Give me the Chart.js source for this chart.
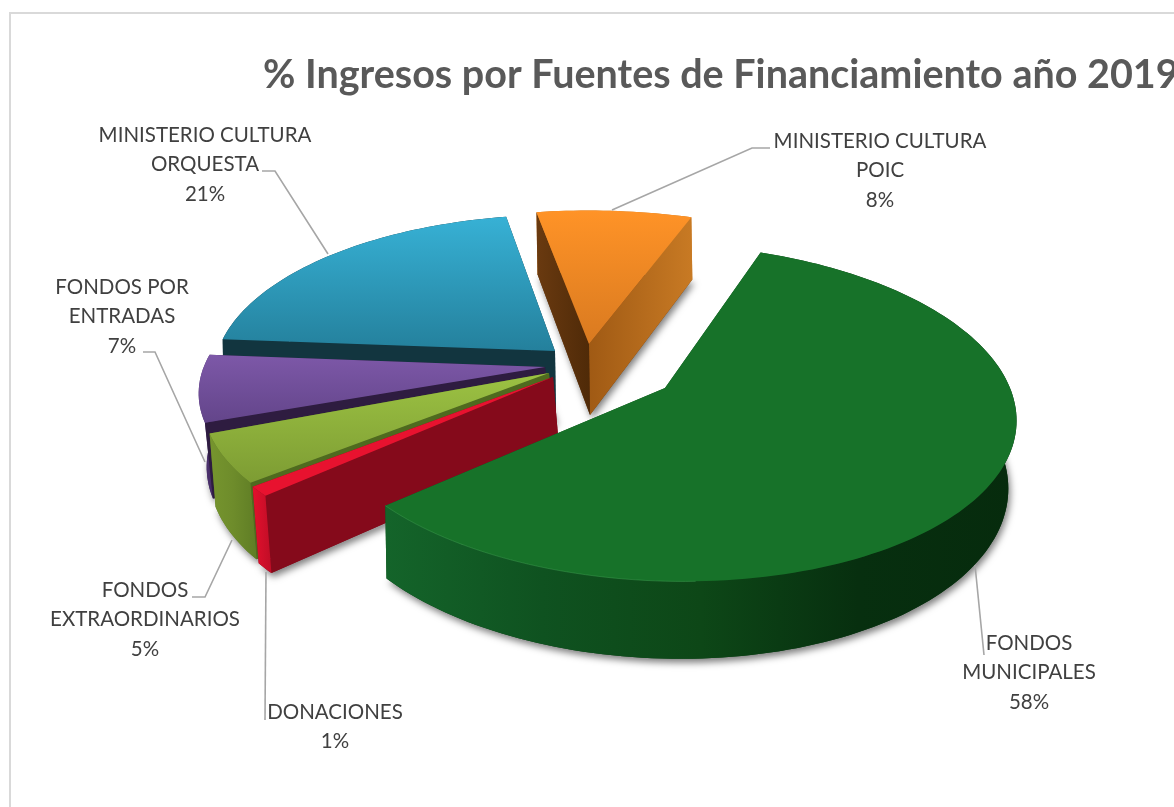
<!DOCTYPE html>
<html lang="es">
<head>
<meta charset="utf-8">
<title>% Ingresos por Fuentes de Financiamiento año 2019</title>
<script src="https://cdn.jsdelivr.net/npm/chart.js@4"></script>
<style>
  html,body{margin:0;padding:0;background:#fff;overflow:hidden}
  #marco{position:absolute;left:9px;top:12px;right:-5px;bottom:-5px;border:2px solid #d9d9d9}
  canvas{position:absolute;left:0;top:0;display:block}
</style>
</head>
<body>
<div id="marco"></div>
<canvas id="pieChart" width="1174" height="807"></canvas>
<script>
// Datos
const chartTitle = '% Ingresos por Fuentes de Financiamiento año 2019';
const categorias = ['FONDOS MUNICIPALES','DONACIONES','FONDOS EXTRAORDINARIOS','FONDOS POR ENTRADAS','MINISTERIO CULTURA ORQUESTA','MINISTERIO CULTURA POIC'];
const porcentajes = [58, 1, 5, 7, 21, 8];
const lineasEtiqueta = [
  ['FONDOS','MUNICIPALES'],
  ['DONACIONES'],
  ['FONDOS','EXTRAORDINARIOS'],
  ['FONDOS POR','ENTRADAS'],
  ['MINISTERIO CULTURA','ORQUESTA'],
  ['MINISTERIO CULTURA','POIC']
];

// Layout (a ojo): centro de etiqueta y guia
const posEtiqueta = [[1029,643],[335,712],[145,590],[122,287],[205,135],[880,141]];
const guias = [
  [[984,655],[975,565]],
  [[265,720],[266,572]],
  [[192,597],[205,597],[232,540]],
  [[143,352],[155,352],[205,462]],
  [[262,171],[275,171],[328,254]],
  [[770,148],[752,148],[612,210]]
];

// Perspectiva: cada porcion tiene su vertice y sus radios porque va separada
const PERSP = 0.147;
const geom = [
  {ax:665,ay:388,rx:345,sx:16,ry:165,ty:0,d:66,dx:-3,k:0.985},
  {ax:553,ay:377,rx:345,sx:5,ry:157,ty:-8,d:70,dx:6,k:1},
  {ax:549,ay:373,rx:343,sx:5,ry:157,ty:-8,d:70,dx:6,k:1},
  {ax:545,ay:367,rx:343,sx:3,ry:152,ty:-5,d:72,dx:8,k:1},
  {ax:555,ay:351,rx:339,sx:10,ry:156,ty:-6,d:71,dx:1,k:1},
  {ax:589,ay:344,rx:356,sx:12,ry:153,ty:-4,d:71,dx:1,k:1}
];
const colores = [
  {top:['#177229','#177229'],lado:['#14642a','#0f5220','#0d4717','#072f0f','#062b0d'],corteA:'#0e4c19',corteB:'#0e4c19',base:'#0a3d14'},
  {top:['#e8122f','#e8122f'],lado:['#e2112c','#d20f2a','#c00d26'],corteA:'#850a1b',corteB:'#850a1b',base:'#850a1b'},
  {top:['#9cc243','#7d9c33'],lado:['#76952e','#6e8c2b','#5f7d25'],corteA:'#4f6a1f',corteB:'#4f6a1f',base:'#5f7d25'},
  {top:['#7d58a8','#63458a'],lado:['#4f3372','#4a306c','#3d2759'],corteA:'#2e1c40',corteB:'#2e1c40',base:'#3d2759'},
  {top:['#37b1d5','#24809c'],lado:['#12353f','#12353f','#12353f'],corteA:'#12353f',corteB:'#12353f',base:'#12353f'},
  {top:['#ff9327','#d97a20'],lado:['#c87a24','#c87a24','#c87a24'],corteA:['#6a3a10','#4f2a08'],corteB:['#a05a14','#c87a24'],base:'#6a3a10'}
];
const ordenDibujo = [4, 5, 3, 2, 1, 0];

function proyectar(g, t, abajo){
  const c = Math.cos(t), s = Math.sin(t), w = 1 - PERSP * s;
  const px = (g.rx * c + g.sx * s) / w;
  return {
    x: g.ax + (abajo ? px * g.k + g.dx : px),
    y: g.ay + (g.ry * s + g.ty * c + (abajo ? g.d : 0)) / w
  };
}

function puntosArco(g, a0, a1, abajo){
  const n = Math.max(4, Math.ceil((a1 - a0) * 40));
  const pts = [];
  for(let i = 0; i <= n; i++) pts.push(proyectar(g, a0 + (a1 - a0) * i / n, abajo));
  return pts;
}

function trazar(ctx, pts){
  ctx.beginPath();
  pts.forEach((p, i) => i ? ctx.lineTo(p.x, p.y) : ctx.moveTo(p.x, p.y));
  ctx.closePath();
}

function pintura(ctx, col, pts){
  if(typeof col === 'string') return col;
  const xs = pts.map(p => p.x);
  const gr = ctx.createLinearGradient(Math.min(...xs), 0, Math.max(...xs), 0);
  col.forEach((c, i) => gr.addColorStop(i / (col.length - 1), c));
  return gr;
}

function dibujarPorcion(ctx, arc, g, col){
  const {startAngle:a0, endAngle:a1} = arc.getProps(['startAngle','endAngle'], true);
  const sup = puntosArco(g, a0, a1, false);
  const inf = puntosArco(g, a0, a1, true);
  const v = {x:g.ax, y:g.ay}, vb = {x:g.ax + g.dx, y:g.ay + g.d};

  // base con sombra
  ctx.save();
  ctx.shadowColor = 'rgba(0,0,0,0.5)';
  ctx.shadowBlur = 7;
  ctx.shadowOffsetX = 2;
  ctx.shadowOffsetY = 4;
  trazar(ctx, [vb, ...inf]);
  ctx.fillStyle = col.base;
  ctx.fill();
  ctx.restore();

  const lat = [...sup, ...inf.slice().reverse()];
  const pintarLateral = () => {
    trazar(ctx, lat);
    ctx.fillStyle = pintura(ctx, col.lado, lat);
    ctx.fill();
  };
  // si la porcion queda al fondo el lateral va detras de los cortes
  const alFondo = Math.sin((a0 + a1) / 2) < 0.2;
  if(alFondo) pintarLateral();

  const caraB = [v, sup[sup.length - 1], inf[inf.length - 1], vb];
  trazar(ctx, caraB);
  ctx.fillStyle = pintura(ctx, col.corteB, caraB);
  ctx.fill();
  const caraA = [sup[0], v, vb, inf[0]];
  trazar(ctx, caraA);
  ctx.fillStyle = pintura(ctx, col.corteA, caraA);
  ctx.fill();

  if(!alFondo) pintarLateral();

  // cara superior
  const cara = [v, ...sup];
  const ys = cara.map(p => p.y);
  const gr = ctx.createLinearGradient(0, Math.min(...ys), 0, Math.max(...ys));
  gr.addColorStop(0, col.top[0]);
  gr.addColorStop(1, col.top[1]);
  trazar(ctx, cara);
  ctx.fillStyle = gr;
  ctx.fill();

  // brillo del canto (solo se nota en la grande)
  if(a1 - a0 > 3){
    ctx.beginPath();
    sup.slice(Math.floor(sup.length * 0.75)).forEach((p, i) => i ? ctx.lineTo(p.x, p.y) : ctx.moveTo(p.x, p.y));
    ctx.strokeStyle = 'rgba(70,170,90,0.4)';
    ctx.lineWidth = 1;
    ctx.stroke();
  }
}

const tartaPlugin = {
  id: 'tarta3d',
  beforeDatasetsDraw(chart){
    const ctx = chart.ctx;
    const arcs = chart.getDatasetMeta(0).data;
    ordenDibujo.forEach(i => dibujarPorcion(ctx, arcs[i], geom[i], colores[i]));
    return false; // ya pintado, chart.js no dibuja el circulo plano
  },
  afterDraw(chart){
    const ctx = chart.ctx;
    ctx.save();
    ctx.strokeStyle = '#a6a6a6';
    ctx.lineWidth = 1.6;
    guias.forEach(g => {
      ctx.beginPath();
      g.forEach((p, i) => i ? ctx.lineTo(p[0], p[1]) : ctx.moveTo(p[0], p[1]));
      ctx.stroke();
    });

    ctx.fillStyle = '#404040';
    ctx.font = '400 20.5px Lato';
    ctx.textAlign = 'center';
    ctx.textBaseline = 'middle';
    lineasEtiqueta.forEach((lineas, i) => {
      const [x, y] = posEtiqueta[i];
      [...lineas, porcentajes[i] + '%'].forEach((txt, j) => ctx.fillText(txt, x, y + j * 29.5));
    });

    ctx.fillStyle = '#595959';
    ctx.font = '700 39.5px Lato';
    ctx.textAlign = 'left';
    ctx.textBaseline = 'alphabetic';
    ctx.fillText(chartTitle, 263, 88);
    ctx.restore();
  }
};

new Chart(document.getElementById('pieChart').getContext('2d'), {
  type: 'pie',
  data: {
    labels: categorias,
    datasets: [{ data: porcentajes, backgroundColor: colores.map(c => c.top[0]), borderWidth: 0 }]
  },
  options: {
    responsive: false,
    animation: false,
    rotation: 21,
    plugins: { legend: { display: false }, tooltip: { enabled: false } }
  },
  plugins: [tartaPlugin]
});
</script>
</body>
</html>
